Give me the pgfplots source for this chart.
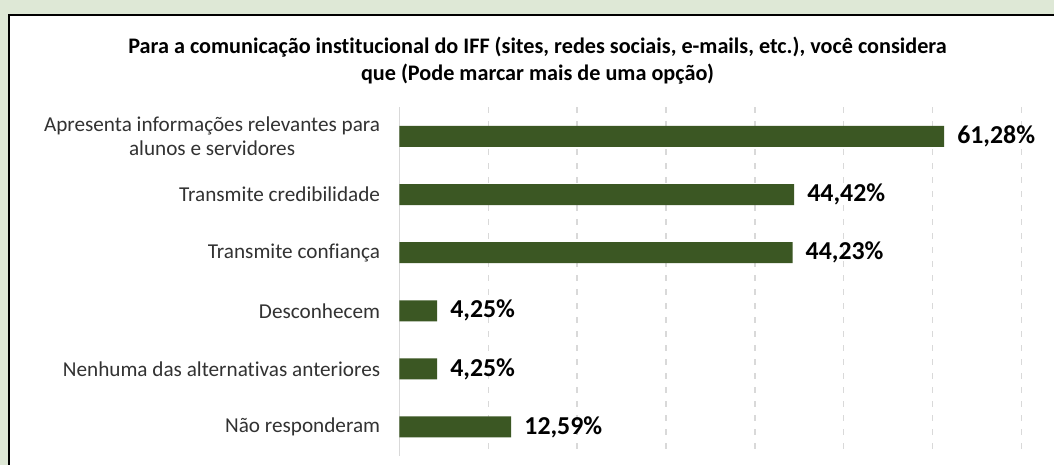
\documentclass[border=0pt]{standalone}
\usepackage{pgfplots}
\pgfplotsset{compat=1.18}
\usepackage{fontspec}
\setmainfont{Carlito}[Ligatures=CommonOff]
\definecolor{bargreen}{RGB}{59,87,35}
\definecolor{bggreen}{RGB}{222,232,214}
\definecolor{gridgray}{RGB}{217,217,217}
\definecolor{labgray}{RGB}{50,50,50}
\begin{document}
\begin{tikzpicture}[x=1pt,y=1pt]
\useasboundingbox (0,0) rectangle (1054,465);
\clip (0,0) rectangle (1054,465);
\fill[bggreen] (0,0) rectangle (1054,465);
\fill[white] (9,-5) rectangle (1060,450);
\draw[black, line width=2pt] (9,-5) -- (9,450) -- (1060,450);
\node[align=center, font=\fontsize{22.2}{27}\selectfont\bfseries, text=black] at (537.5,404.5)
  {Para a comunicação institucional do IFF (sites, redes sociais, e-mails, etc.), você considera\\que (Pode marcar mais de uma opção)};
\begin{axis}[
  at={(399.3pt,9pt)}, anchor=south west,
  scale only axis, width=622.3pt, height=348.6pt,
  xmin=0, xmax=70, ymin=-0.5, ymax=5.5, y dir=reverse,
  xbar, bar width=21pt,
  axis line style={draw=none},
  major tick length=0pt,
  xtick={10,20,...,70}, xticklabels={},
  xmajorgrids,
  grid style={gridgray, line width=1.3pt, dash pattern=on 6pt off 8pt},
  extra x ticks={0}, extra x tick labels={},
  extra x tick style={grid style={solid, gridgray, line width=1.5pt}},
  ytick={0,1,2,3,4,5},
  yticklabels={{Apresenta informações relevantes para\\alunos e servidores},
    {Transmite credibilidade},{Transmite confiança},{Desconhecem},
    {Nenhuma das alternativas anteriores},{Não responderam}},
  yticklabel style={align=center, anchor=east, inner sep=0pt, xshift=-19pt,
    font=\fontsize{21.2}{24}\selectfont, text=labgray},
  point meta=explicit symbolic,
  nodes near coords={\pgfplotspointmeta\%},
  nodes near coords style={anchor=west, inner sep=0pt, xshift=13pt,
    font=\fontsize{25.8}{30}\selectfont\bfseries, text=black},
  clip=false,
]
\addplot[fill=bargreen, draw=none] table[x=x, y=y, meta=lab] {
x y lab
61.28 0 61,28
44.42 1 44,42
44.23 2 44,23
4.25 3 4,25
4.25 4 4,25
12.59 5 12,59
};
\end{axis}
\end{tikzpicture}
\end{document}
